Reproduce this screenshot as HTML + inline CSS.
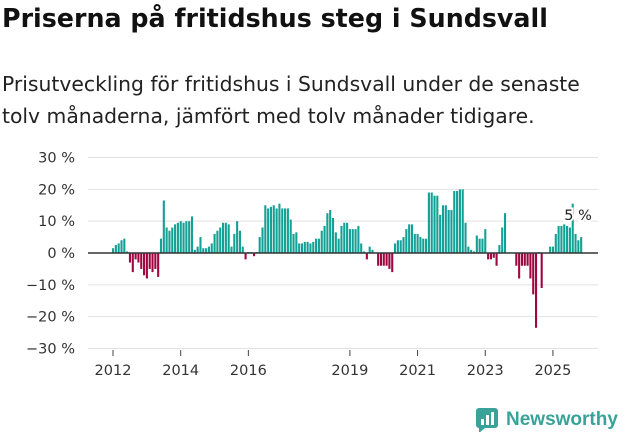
<!DOCTYPE html>
<html><head><meta charset="utf-8"><style>
body{margin:0;width:631px;height:439px;background:#fff;font-family:"DejaVu Sans","Liberation Sans",sans-serif;overflow:hidden;position:relative}
#title{position:absolute;left:2px;top:3px;font-size:22px;font-weight:bold;color:#111;margin:0;white-space:nowrap}
#sub{position:absolute;left:2px;top:68px;font-size:18px;line-height:32px;color:#222;white-space:nowrap}
svg{position:absolute;left:0;top:0}
</style></head><body>
<h1 id="title">Priserna på fritidshus steg i Sundsvall</h1>
<div id="sub"><span id="l1">Prisutveckling för fritidshus i Sundsvall under de senaste</span><br>tolv månaderna, jämfört med tolv månader tidigare.</div>
<svg id="chart" width="631" height="439"></svg>
<script>
const values=[1.5,2.5,3,4,4.5,0.5,-3,-6,-2,-3,-5,-7,-8,-5,-6,-5,-7.5,4.5,16.5,8,7,8,9,9.5,10,9.5,10,10,11.5,1,2,5,1.5,1.5,2,3,6,7,8,9.5,9.5,9,2,6,10,7,2,-2,0.3,0.3,-1,0.3,5,8,15,14,14.5,15,14,15.5,14,14,14,10.5,6,6.5,3,3,3.5,3.5,3,3.5,4.5,4.5,7,8.5,12.5,13.5,11,6.5,4.5,8.5,9.5,9.5,7.5,7.5,7.5,8.5,3,0.5,-2,2,1,0,-4,-4,-4,-4,-5,-6,3,4,4,5,7.5,9,9,6,6,5,4.5,4.5,19,19,18,18,12,15,15,13.5,13.5,19.5,19.5,20,20,9.5,2,1,0.5,5.5,4.5,4.5,7.5,-2,-2,-1.5,-4,2.5,8,12.5,0,0,0,-4,-8,-4,-4,-4,-8,-13,-23.5,0.3,-11,0,0,2,2,6,8.5,8.5,9,8.5,8,15.5,6,4,5];
const yTicks=[30,20,10,0,-10,-20,-30];
const yTickLabels=["30 %","20 %","10 %","0 %","−10 %","−20 %","−30 %"];
const xTickYears=[2012,2014,2016,2019,2021,2023,2025];
const startYear=2012;
const lastLabel="5 %";
// fit text widths to reference
(function(){
  const t=document.getElementById('title');
  t.style.fontSize=(22*546/t.getBoundingClientRect().width)+'px';
  const s=document.getElementById('sub'), l1=document.getElementById('l1');
  s.style.fontSize=(18*578/l1.getBoundingClientRect().width)+'px';
})();
const NS="http://www.w3.org/2000/svg";
const svg=document.getElementById('chart');
const y=v=>253-v*3.183;
const x=i=>113+i*2.82;
const xYear=yr=>x((yr-startYear)*12);
function mk(t,a){const e=document.createElementNS(NS,t);for(const k in a)e.setAttribute(k,a[k]);svg.appendChild(e);return e;}
yTicks.forEach((t,k)=>{
  if(t!==0){const g=mk('line',{x1:88,x2:598,y1:y(t),y2:y(t),stroke:'#e2e2e2','stroke-width':1});
  
  }
  const l=mk('text',{x:75,y:y(t)+5,'text-anchor':'end','font-size':14.5,fill:'#333'});
  l.textContent=yTickLabels[k];
  
  
});
values.forEach((v,i)=>{
  const r=mk('rect',{x:x(i)-1,y:Math.min(y(v),253),width:2.1,height:Math.abs(y(v)-253),fill:v>=0?'#13a196':'#a0063f'});
  
  
});
const z=mk('line',{x1:88,x2:598,y1:253,y2:253,stroke:'#333','stroke-width':1.5});


xTickYears.forEach(yr=>{
  const tk=mk('line',{x1:xYear(yr),x2:xYear(yr),y1:350,y2:356,stroke:'#444'});
  
  
  const t=mk('text',{x:xYear(yr),y:375,'text-anchor':'middle','font-size':14.5,fill:'#333'});
  t.textContent=yr;
  
  
});
const ll=mk('text',{x:x(values.length-1)-3,y:220,'text-anchor':'middle','font-size':14.5,fill:'#222',stroke:'#fff','stroke-width':4,'paint-order':'stroke'});
ll.textContent=lastLabel;


</script>
<div style="position:absolute;left:476px;top:408px;display:flex;align-items:center;gap:6px">
<svg width="24" height="24" style="position:static" viewBox="0 0 24 24"><rect x="0" y="0" width="22" height="20" rx="3" fill="#3aa399"/><path d="M3 20 L3 25 L9 20Z" fill="#3aa399"/><rect x="5" y="11" width="3" height="6" fill="#fff"/><rect x="10" y="7" width="3" height="10" fill="#fff"/><rect x="15" y="4" width="3" height="13" fill="#fff"/></svg>
<span style="font-size:19px;font-weight:bold;color:#3aa399;font-family:'Liberation Sans',sans-serif">Newsworthy</span></div>
</body></html>
